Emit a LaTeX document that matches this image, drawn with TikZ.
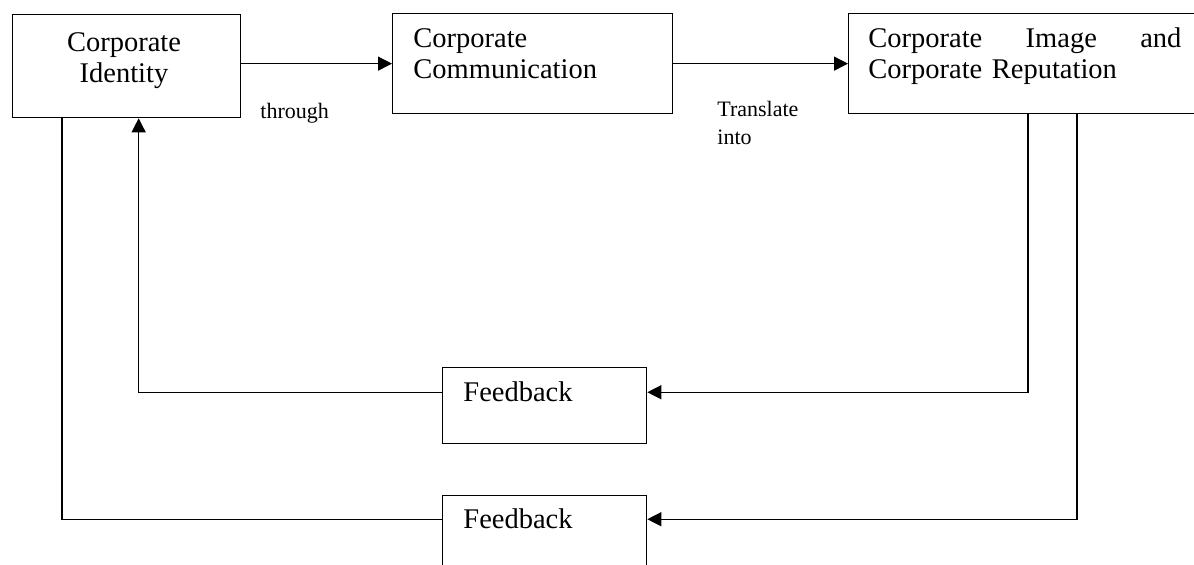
\documentclass[tikz,border=0pt]{standalone}
\usepackage{fontspec}
\setmainfont{Liberation Serif}
\usetikzlibrary{arrows.meta, positioning}

\begin{document}
\begin{tikzpicture}[x=0.5pt, y=-0.5pt, % one unit = one pixel of the original
	box/.style={draw, line width=0.65pt, anchor=north west, inner sep=0pt},
	boxtext/.style={inner sep=0pt, font=\fontsize{14.25}{15.75}\selectfont},
	smalltext/.style={inner sep=0pt, align=left, font=\fontsize{11}{14}\selectfont},
	plainlink/.style={line width=0.65pt},
	link/.style={plainlink, -{Triangle[length=7pt, width=7pt]}}]
	
	\useasboundingbox (0,0) rectangle (1194,565);
	
	% Top row of boxes
	\node[box, minimum width=114pt, minimum height=51.5pt] (ident) at (12,14) {};
	\node[box, minimum width=140pt, minimum height=50pt] (comm) at (392,13) {};
	\node[box, minimum width=181pt, minimum height=50pt] (image) at (848,13) {};
	
	% Feedback boxes
	\node[box, minimum width=102pt, minimum height=38pt] (fbone) at (442,367) {};
	\node[box, minimum width=102pt, minimum height=38pt] (fbtwo) at (442,495) {};
	
	% Texts inside the boxes
	\node[boxtext, anchor=north, align=center] (identtext) at (124,32) {Corporate\\Identity};
	\node[boxtext, anchor=north west, align=left] (commtext) at (413,28) {Corporate\\Communication};
	\node[boxtext, anchor=north west, text width=156.5pt, align=left] (imagetext) at (868,27)
		{Corporate\hfill Image\hfill and\\Corporate Reputation};
	\node[boxtext, anchor=base west] (fbonetext) at (463,402) {Feedback};
	\node[boxtext, anchor=base west] (fbtwotext) at (463,529) {Feedback};
	
	% Labels on the arrows
	\node[smalltext, anchor=base west] (through) at (260,119) {through};
	\node[smalltext, anchor=north west] (transl) at (717,101) {Translate\\into};
	
	% Forward arrows
	\draw[link] (ident.east |- comm.west) -- (comm.west);
	\draw[link] (comm.east) -- (image.west);
	
	% Feedback loops
	\coordinate (outone) at ([xshift=90pt]image.south west);
	\coordinate (outtwo) at ([xshift=114.5pt]image.south west);
	\draw[link] (outone) |- (fbone.east |- fbonetext);
	\draw[link] (outtwo) |- (fbtwo.east |- fbtwotext);
	\draw[link] (fbone.west |- fbonetext) -| ([xshift=6pt]ident.south);
	\draw[plainlink] (fbtwo.west |- fbtwotext) -| ([xshift=25pt]ident.south west);
	
\end{tikzpicture}
\end{document}
